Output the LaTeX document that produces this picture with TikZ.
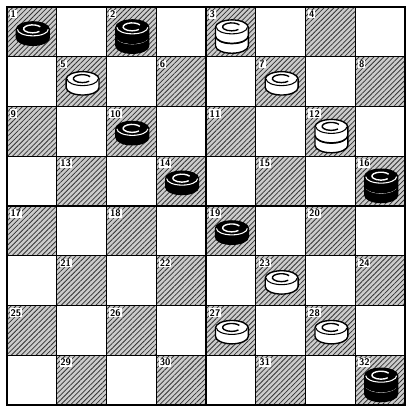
\documentclass[tikz,border=0pt]{standalone}
\usepackage{tikz}
\usetikzlibrary{calc, patterns.meta}

% one layer of a draughts piece, top centre at the origin
\tikzset{
  pics/layer/.style 2 args={code={
    \filldraw[fill=#1, draw=black, line width=0.8pt]
      (-0.33,0) -- (-0.33,-0.17)
      arc[start angle=180, end angle=360, x radius=0.33, y radius=0.15]
      -- (0.33,0)
      arc[start angle=0, end angle=180, x radius=0.33, y radius=0.15] -- cycle;
    \draw[#2, line width=0.6pt] (-0.31,0)
      arc[start angle=180, end angle=360, x radius=0.31, y radius=0.13];
    \draw[#2, line width=0.8pt] (0.15,0.05)
      arc[start angle=30, end angle=320, x radius=0.18, y radius=0.08];
  }},
}

\begin{document}
\begin{tikzpicture}[
    darksq/.style={fill=black!20, postaction={pattern={Lines[angle=45, distance=2pt, line width=0.45pt]}, pattern color=black!80}},
    numlabel/.style={anchor=north west, fill=white, inner sep=0.5pt, font=\fontsize{5.5}{5.5}\selectfont\sffamily\bfseries},
  ]
    \useasboundingbox (-0.14,-0.22) rectangle (8.22,8.14);
    \fill[white] (0,0) rectangle (8,8);
    % dark squares, numbered 1..32
    \foreach \n in {1,...,32} {
      \pgfmathtruncatemacro{\row}{(\n-1)/4}
      \pgfmathtruncatemacro{\col}{2*mod(\n-1,4)+mod(\row,2)}
      \fill[darksq] (\col,7-\row) rectangle ++(1,1);
      \coordinate (c\n) at (\col+0.5,7.5-\row);
      \node[numlabel] (lab\n) at (\col+0.05,7.95-\row) {\n};
    }
    % board lines
    \draw[line width=0.6pt] (0,0) grid (8,8);
    \draw[line width=1.1pt] (0,0) rectangle (8,8);
    % black men
    \foreach \s in {1,10,14,19}
      \pic at ($(c\s)+(0.02,0.05)$) {layer={black}{white}};
    % black kings
    \foreach \s in {2,16,32} {
      \pic at ($(c\s)+(0.02,-0.11)$) {layer={black}{white}};
      \pic at ($(c\s)+(0.02,0.09)$) {layer={black}{white}};
    }
    % white men
    \foreach \s in {5,7,23,27,28}
      \pic at ($(c\s)+(0.02,0.05)$) {layer={white}{black}};
    % white kings
    \foreach \s in {3,12} {
      \pic at ($(c\s)+(0.02,-0.11)$) {layer={white}{black}};
      \pic at ($(c\s)+(0.02,0.09)$) {layer={white}{black}};
    }
\end{tikzpicture}
\end{document}
